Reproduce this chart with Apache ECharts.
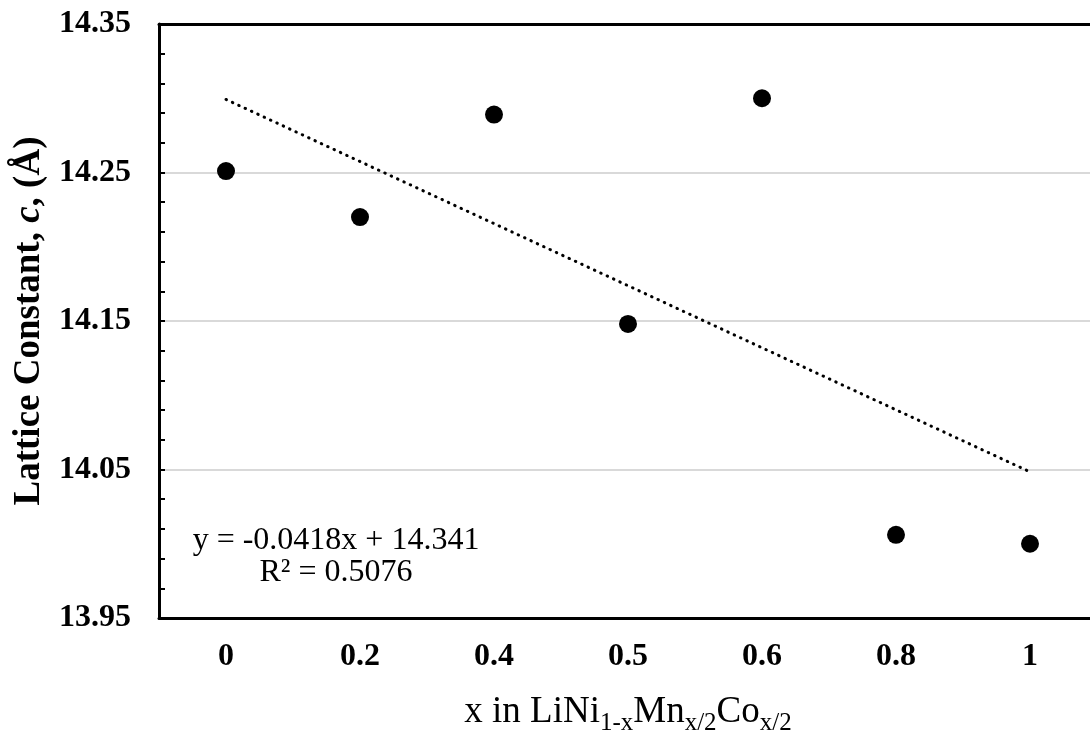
<!DOCTYPE html>
<html>
<head>
<meta charset="utf-8">
<script src="https://cdn.jsdelivr.net/npm/echarts@6/dist/echarts.min.js"></script>
<style>
  html, body { margin: 0; padding: 0; background: #fff; }
  #chart { width: 1090px; height: 734px; }
</style>
</head>
<body>
<div id="chart"></div>
<script>
// ---- data ----
const categories = ['0', '0.2', '0.4', '0.5', '0.6', '0.8', '1'];
const latticeC = [14.251, 14.220, 14.289, 14.148, 14.300, 14.006, 14.000];
// linear trendline endpoints (Excel: y = -0.0418x + 14.341, x = point index 1..7)
const trendLine = [[0, 14.2992], [6, 14.0484]];
const equationLines = ['y = -0.0418x + 14.341', 'R\u00B2 = 0.5076'];
const yMin = 13.95, yMax = 14.35, yStep = 0.1;

const SERIF = '"Liberation Serif", "Times New Roman", serif';
const chart = echarts.init(document.getElementById('chart'), null, { renderer: 'canvas' });

chart.setOption({
  animation: false,
  backgroundColor: '#fff',
  grid: { left: 159, top: 24, width: 938, height: 594, containLabel: false, outerBoundsMode: 'none' },
  xAxis: [
    {
      type: 'category',
      data: categories,
      boundaryGap: true,
      axisLine: { lineStyle: { color: '#000', width: 3 } },
      axisTick: { show: false },
      axisLabel: { color: '#000', fontFamily: SERIF, fontWeight: 'bold', fontSize: 32, margin: 23 },
      splitLine: { show: false },
      name: '{n|x in LiNi}{s|1-x}{n|Mn}{s|x/2}{n|Co}{s|x/2}',
      nameLocation: 'middle',
      nameGap: 76,
      nameTextStyle: {
        color: '#000', fontFamily: SERIF, fontSize: 37,
        rich: {
          n: { color: '#000', fontFamily: SERIF, fontSize: 37, lineHeight: 37 },
          s: { color: '#000', fontFamily: SERIF, fontSize: 25, lineHeight: 25, padding: [22, 0, 0, 0] }
        }
      }
    },
    {
      type: 'category',
      data: categories,
      position: 'top',
      boundaryGap: true,
      axisLine: { show: true, onZero: false, lineStyle: { color: '#000', width: 3 } },
      axisTick: { show: false },
      axisLabel: { show: false },
      splitLine: { show: false }
    }
  ],
  yAxis: {
    type: 'value',
    min: yMin, max: yMax, interval: yStep,
    axisLine: { show: true, lineStyle: { color: '#000', width: 3 } },
    axisTick: { show: true, inside: true, length: 6, lineStyle: { color: '#000', width: 2 } },
    minorTick: { show: true, splitNumber: 5, length: 6, lineStyle: { color: '#000', width: 2 } },
    axisLabel: {
      color: '#000', fontFamily: SERIF, fontWeight: 'bold', fontSize: 32, margin: 28,
      formatter: v => v.toFixed(2)
    },
    splitLine: { show: true, lineStyle: { color: '#d9d9d9', width: 2 } },
    name: '{b|Lattice Constant, }{i|c}{b|, (\u00C5)}',
    nameLocation: 'middle',
    nameRotate: 90,
    nameGap: 110,
    nameTextStyle: {
      color: '#000', fontFamily: SERIF, fontSize: 37, fontWeight: 'bold',
      rich: {
        b: { color: '#000', fontFamily: SERIF, fontSize: 37, fontWeight: 'bold' },
        i: { color: '#000', fontFamily: SERIF, fontSize: 37, fontWeight: 'bold', fontStyle: 'italic' }
      }
    }
  },
  series: [
    {
      type: 'line',
      data: trendLine,
      symbol: 'none',
      silent: true,
      lineStyle: { color: '#000', width: 3, type: [0.5, 6.5], cap: 'round' },
      z: 2
    },
    {
      type: 'scatter',
      data: latticeC,
      symbol: 'circle',
      symbolSize: 18,
      itemStyle: { color: '#000', opacity: 1 },
      z: 3
    }
  ],
  graphic: [
    {
      type: 'text',
      x: 336, y: 525,
      style: {
        text: equationLines.join('\n'),
        textAlign: 'center',
        fontFamily: SERIF, fontSize: 32, lineHeight: 32, fill: '#000'
      },
      z: 10
    }
  ]
});
</script>
</body>
</html>
